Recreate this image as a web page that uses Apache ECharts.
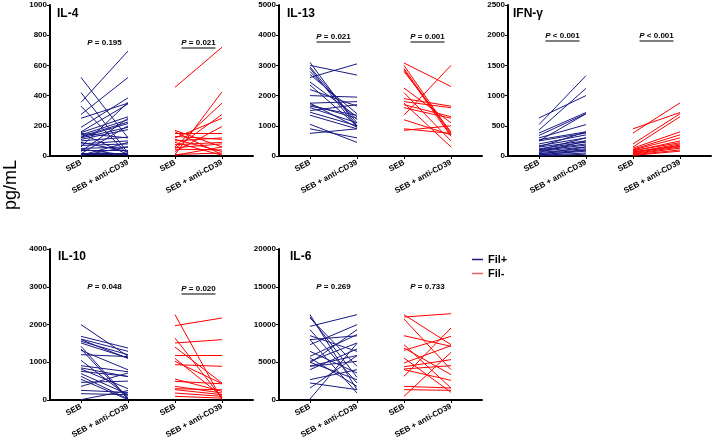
<!DOCTYPE html>
<html><head><meta charset="utf-8">
<script src="https://cdn.jsdelivr.net/npm/echarts@6/dist/echarts.min.js"></script>
<style>html,body{margin:0;padding:0;background:#fff}#c{width:716px;height:442px}</style>
</head><body><div id="c"></div>
<script>
const categories = ['SEB', 'SEB + anti-CD39', 'SEB', 'SEB + anti-CD39'];
const panelNames = ['IL-4', 'IL-13', 'IFN-γ', 'IL-10', 'IL-6'];
const yMax = [1000, 5000, 2500, 4000, 20000];
const yStep = [200, 1000, 500, 1000, 5000];
const pBlue = ['0.195', '0.021', '< 0.001', '0.048', '0.269'];
const pRed = ['0.021', '0.001', '< 0.001', '0.020', '0.733'];
const pBlueUnderline = [false, true, true, false, false];
const pRedUnderline = [true, true, true, true, false];

// IL-4
const il4BlueBefore = [520, 420, 355, 330, 275, 250, 190, 160, 155, 150, 140, 130, 125, 120, 110, 100, 90, 80, 70, 60, 50, 45, 40, 30, 20, 15, 10, 5, 3, 150];
const il4BlueAfter  = [120, 20, 695, 10, 520, 350, 385, 345, 260, 10, 240, 225, 215, 190, 175, 125, 30, 100, 80, 355, 60, 5, 40, 250, 20, 200, 10, 90, 60, 120];
const il4RedBefore = [455, 10, 60, 50, 120, 30, 170, 160, 150, 130, 75, 90, 55, 45, 10, 5, 100, 110];
const il4RedAfter  = [720, 425, 350, 275, 250, 195, 60, 10, 150, 110, 90, 5, 80, 40, 20, 60, 120, 30];
// IL-13
const il13BlueBefore = [3100, 3000, 2950, 2900, 2800, 2700, 2600, 2450, 2350, 2200, 2000, 1750, 1700, 1650, 1600, 1500, 1450, 1350, 1050, 900, 750, 1750];
const il13BlueAfter  = [1000, 2680, 1100, 950, 1200, 1400, 3050, 1300, 1000, 1650, 1950, 1800, 1250, 1350, 1100, 1700, 1000, 900, 450, 600, 900, 950];
const il13RedBefore = [1350, 3080, 2900, 3000, 2850, 2800, 2250, 2100, 1900, 1800, 1750, 1700, 1600, 1200, 900, 850];
const il13RedAfter  = [3000, 2300, 700, 750, 650, 800, 1100, 500, 1650, 1600, 300, 1300, 1250, 700, 750, 1000];
// IFN-γ
const ifnBlueBefore = [630, 520, 430, 380, 340, 300, 270, 250, 200, 170, 150, 120, 100, 90, 80, 60, 40, 20, 10, 0, 250, 150, 100, 60, 30, 10];
const ifnBlueAfter  = [1000, 1330, 1120, 720, 700, 520, 400, 380, 350, 300, 250, 230, 200, 180, 150, 120, 100, 80, 50, 30, 700, 400, 300, 250, 150, 100];
const ifnRedBefore = [450, 380, 200, 150, 130, 110, 100, 80, 60, 50, 40, 30, 20, 10, 70, 90];
const ifnRedAfter  = [720, 880, 700, 650, 400, 350, 300, 250, 200, 180, 150, 130, 100, 80, 160, 220];
// IL-10
const il10BlueBefore = [1996, 1686, 1615, 1554, 1510, 1421, 1316, 1201, 1051, 909, 821, 759, 627, 468, 362, 256, 168, 9, 1350, 850, 550, 700, 1600];
const il10BlueAfter  = [1157, 1377, 1289, 1200, 1113, 50, 800, 1150, 100, 750, 300, 627, 30, 500, 715, 200, 141, 250, 20, 620, 10, 150, 1100];
const il10RedBefore = [2260, 1969, 1642, 1510, 1174, 1024, 1400, 1100, 556, 494, 362, 274, 185, 97, 300, 936];
const il10RedAfter  = [9, 2172, 50, 1598, 1174, 433, 450, 100, 230, 430, 185, 141, 97, 50, 270, 892];
// IL-6
const il6BlueBefore = [11300, 10860, 9757, 9316, 8520, 7990, 7329, 6446, 5784, 5563, 5121, 4900, 4459, 4018, 2693, 2252, 1589, 132, 5000, 4500, 11000, 8000];
const il6BlueAfter  = [1369, 4459, 11300, 2252, 6446, 927, 9978, 3576, 8654, 1810, 7550, 9316, 5121, 6755, 4018, 1369, 5872, 7500, 2693, 5900, 3000, 8500];
const il6RedBefore = [10990, 11300, 10730, 8520, 7330, 6890, 6580, 5563, 4900, 4106, 4018, 3134, 1810, 1369, 486, 4400];
const il6RedAfter  = [11430, 7330, 4018, 7108, 1589, 3355, 8432, 1015, 7200, 4547, 2605, 9536, 1589, 1280, 6313, 5342];

const blueBefore = [il4BlueBefore, il13BlueBefore, ifnBlueBefore, il10BlueBefore, il6BlueBefore];
const blueAfter = [il4BlueAfter, il13BlueAfter, ifnBlueAfter, il10BlueAfter, il6BlueAfter];
const redBefore = [il4RedBefore, il13RedBefore, ifnRedBefore, il10RedBefore, il6RedBefore];
const redAfter = [il4RedAfter, il13RedAfter, ifnRedAfter, il10RedAfter, il6RedAfter];

const FONT = '"Liberation Sans", Arial, sans-serif';
const BLUE = '#1a1a85';
const RED = '#ff0000';
const gridPos = [
  {left: 50, top: 5}, {left: 279, top: 5}, {left: 508, top: 5},
  {left: 50, top: 249}, {left: 279, top: 249}
];
const grids = [], xAxes = [], yAxes = [], series = [], graphics = [];
gridPos.forEach((g, i) => {
  grids.push({left: g.left, top: g.top, width: 203, height: 151, containLabel: false});
  xAxes.push({
    gridIndex: i, type: 'value', min: -0.66, max: 3.66,
    axisLine: {show: true, onZero: false, lineStyle: {color: '#000', width: 2}},
    axisTick: {show: true, customValues: [0, 1, 2, 3], length: 3, lineStyle: {color: '#000', width: 1}},
    axisLabel: {show: true, customValues: [0, 1, 2, 3], formatter: v => categories[Math.round(v)],
      rotate: 28, margin: 6, fontSize: 8, fontWeight: 'bold', color: '#000', fontFamily: FONT},
    splitLine: {show: false}
  });
  yAxes.push({
    gridIndex: i, type: 'value', min: 0, max: yMax[i], interval: yStep[i],
    axisLine: {show: true, onZero: false, lineStyle: {color: '#000', width: 2}},
    axisTick: {show: true, length: 3, lineStyle: {color: '#000', width: 1}},
    axisLabel: {show: true, margin: 3, fontSize: 8, fontWeight: 'bold', color: '#000', fontFamily: FONT,
      formatter: v => String(v)},
    splitLine: {show: false}
  });
  const bd = blueBefore[i].map((v, k) => ({coords: [[0, v], [1, blueAfter[i][k]]]}));
  const rd = redBefore[i].map((v, k) => ({coords: [[2, v], [3, redAfter[i][k]]]}));
  series.push({type: 'lines', name: 'Fil+', coordinateSystem: 'cartesian2d', xAxisIndex: i, yAxisIndex: i,
    data: bd, lineStyle: {color: BLUE, width: 1, opacity: 1}, silent: true});
  series.push({type: 'lines', name: 'Fil-', coordinateSystem: 'cartesian2d', xAxisIndex: i, yAxisIndex: i,
    data: rd, lineStyle: {color: RED, width: 1, opacity: 1}, silent: true});
});

// panel titles
const titlePos = [[57, 14], [287, 14], [513, 14], [58, 257], [290, 257]];
titlePos.forEach((p, i) => {
  graphics.push({type: 'text', x: p[0], y: p[1], silent: true,
    style: {text: panelNames[i], font: 'bold 12px ' + FONT, fill: '#000', textAlign: 'left', textVerticalAlign: 'middle'}});
});
// p values
const pY = [43, 37, 36, 287, 287];
const pYred = [43, 37, 36, 289, 287];
function addP(cx, cy, val, underline) {
  const txt = '{i|P} ' + (val.startsWith('<') ? val : '= ' + val);
  graphics.push({type: 'text', x: cx, y: cy, silent: true,
    style: {text: txt, font: 'bold 8px ' + FONT, fill: '#000', textAlign: 'center', textVerticalAlign: 'middle',
      rich: {i: {fontStyle: 'italic', fontWeight: 'bold', fontSize: 8, fontFamily: FONT}}}});
  if (underline) {
    graphics.push({type: 'line', silent: true, shape: {x1: cx - 17, y1: cy + 5, x2: cx + 17, y2: cy + 5},
      style: {stroke: '#000', lineWidth: 1}});
  }
}
gridPos.forEach((g, i) => {
  addP(g.left + 31 + 23.5, pY[i], pBlue[i], pBlueUnderline[i]);
  addP(g.left + 125 + 23.5, pYred[i], pRed[i], pRedUnderline[i]);
});
graphics.push({type: 'text', x: 11, y: 185, rotation: Math.PI / 2, silent: true,
  style: {text: 'pg/mL', font: '18px ' + FONT, fill: '#000', textAlign: 'center', textVerticalAlign: 'middle'}});

const chart = echarts.init(document.getElementById('c'), null, {renderer: 'canvas'});
chart.setOption({
  animation: false,
  backgroundColor: '#fff',
  grid: grids, xAxis: xAxes, yAxis: yAxes, series: series,
  legend: {show: true, orient: 'vertical', left: 467, top: 249, itemWidth: 11, itemHeight: 1.5, itemGap: 3,
    itemStyle: {borderWidth: 0}, lineStyle: {width: 0},
    data: [{name: 'Fil+', icon: 'rect', itemStyle: {color: BLUE, borderWidth: 0}},
           {name: 'Fil-', icon: 'rect', itemStyle: {color: '#f06060', borderWidth: 0}}],
    textStyle: {fontSize: 11, fontWeight: 'bold', color: '#000', fontFamily: FONT}, selectedMode: false},
  graphic: graphics
});
</script></body></html>
